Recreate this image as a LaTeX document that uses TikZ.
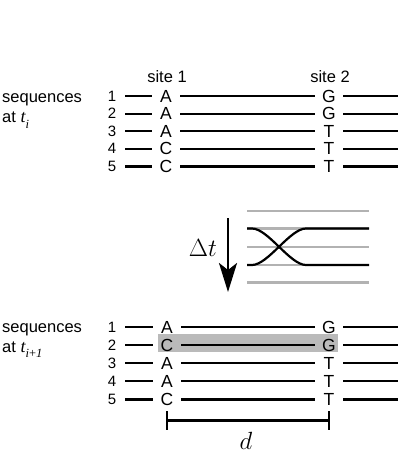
\documentclass[tikz,border=0pt]{standalone}
\usepackage{fontspec}
\setmainfont{Liberation Sans}
\newfontfamily\tnr{Liberation Serif}
\usetikzlibrary{arrows.meta}
\begin{document}
\begin{tikzpicture}[x=1pt,y=-1pt,
  lbl/.style={font=\fontsize{16.5}{18}\selectfont, inner sep=0pt},
  num/.style={font=\fontsize{15}{16}\selectfont, inner sep=0pt, minimum width=26pt},
  base/.style={font=\fontsize{17.5}{19}\selectfont, inner sep=0pt, minimum width=28pt},
  seq/.style={line width=2.2pt},
  gline/.style={line width=2.2pt, black!30}
]
\useasboundingbox (0,0) rectangle (414,456);

% labels
\node[lbl, anchor=base] (s1) at (167,82) {site 1};
\node[lbl, anchor=base] (s2) at (330,82) {site 2};
\node[lbl, anchor=base west] (sq1) at (2,102) {sequences};
\node[lbl, anchor=base west] (at1) at (2,122.5) {at {\tnr\itshape\fontsize{18}{19}\selectfont t}\raisebox{-5.5pt}{\tnr\itshape\fontsize{12.5}{13}\selectfont i}};
\node[lbl, anchor=base west] (sq2) at (2,332) {sequences};
\node[lbl, anchor=base west] (at2) at (2,352) {at {\tnr\itshape\fontsize{18}{19}\selectfont t}\raisebox{-5.5pt}{\tnr\fontsize{12.5}{13}\selectfont\textit{i}+\textit{1}}};

% top block
\foreach \i/\a/\g in {1/A/G,2/A/G,3/A/T,4/C/T,5/C/T} {
  \pgfmathsetmacro\yy{96+17.6*(\i-1)}
  \node[num] (tn\i) at (112,\yy) {\i};
  \node[base] (ta\i) at (166,\yy) {\a};
  \node[base] (tg\i) at (329,\yy) {\g};
  \coordinate (te\i) at (398,\yy);
  \draw[seq] (tn\i) -- (ta\i) -- (tg\i) -- (te\i);
}

% highlight
\node[fill=black!27, minimum width=180pt, minimum height=18pt, inner sep=0pt] (hl) at (248,343) {};

% bottom block
\foreach \i/\a/\g in {1/A/G,2/C/G,3/A/T,4/A/T,5/C/T} {
  \pgfmathsetmacro\yy{327+18.1*(\i-1)}
  \node[num] (bn\i) at (112,\yy) {\i};
  \node[base] (ba\i) at (167,\yy) {\a};
  \node[base] (bg\i) at (329,\yy) {\g};
  \coordinate (be\i) at (398,\yy);
  \draw[seq] (bn\i) -- (ba\i) -- (bg\i) -- (be\i);
}

% distance bar
\coordinate (dl) at (167,420.5);
\coordinate (dr) at (329,420.5);
\draw[line width=2.6pt] (dl) -- (dr);
\draw[line width=2.6pt] ([yshift=-9pt]dl) -- ([yshift=9.5pt]dl);
\draw[line width=2.6pt] ([yshift=-9pt]dr) -- ([yshift=9.5pt]dr);
\node[font=\fontsize{23}{25}\selectfont, inner sep=0pt] (d) at (246,441) {$d$};

% time arrow
\coordinate (ta) at (228,218);
\coordinate (tb) at (228,292);
\draw[line width=2.8pt, -{Stealth[length=29pt,width=18pt,inset=7pt]}] (ta) -- (tb);
\node[font=\fontsize{23}{25}\selectfont, inner sep=0pt] (dt) at (203,248) {$\Delta t$};

% crossing panel
\foreach \k/\y in {1/211,2/228.5,3/247,4/265,5/282.5} {
  \coordinate (gl\k) at (247,\y);
  \coordinate (gr\k) at (369,\y);
  \draw[gline] (gl\k) -- (gr\k);
}
\draw[seq] (gl2) -- (252,228.5) .. controls (268,228.5) and (290,265) .. (306,265) -- (gr4);
\draw[seq] (gl4) -- (252,265) .. controls (268,265) and (290,228.5) .. (306,228.5) -- (gr2);
\end{tikzpicture}
\end{document}
